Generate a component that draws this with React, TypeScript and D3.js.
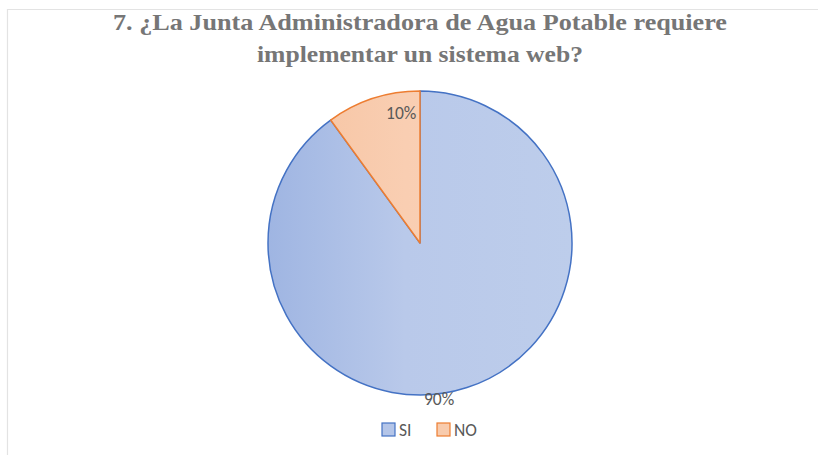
import React from "react";
import * as d3 from "d3";

const categories = ["SI", "NO"];
const values = [90, 10];
const labels = ["90%", "10%"];
const titleLines = ["7. ¿La Junta Administradora de Agua Potable requiere", "implementar un sistema web?"];
const titleWidths = [614, 326];

const W = 818;
const H = 455;
const cx = 420;
const cy = 243;
const R = 152;

// where each data label sits inside its slice (fraction of the slice angle, radius)
const labelFrac = [0.534, 0.77];
const labelRad = [157, 131];

export default function App() {
  const pie = d3.pie<number>().sort(null).value((d) => d)(values);
  const arc = d3.arc<d3.PieArcDatum<number>>().innerRadius(0).outerRadius(R);
  const fills = ["url(#gSI)", "url(#gNO)"];
  const strokes = ["#4472c4", "#ed7d31"];
  const legendFill = ["#b4c5e8", "#f8cbad"];
  const font = "Carlito, Calibri, 'Liberation Sans', sans-serif";

  const labelPos = pie.map((p, i) => {
    const a = p.startAngle + (p.endAngle - p.startAngle) * labelFrac[i];
    const r = labelRad[i];
    return [Math.sin(a) * r, -Math.cos(a) * r];
  });

  return (
    <svg width={W} height={H} style={{ position: "absolute", left: 0, top: 0 }}>
      <defs>
        <linearGradient id="gSI" gradientUnits="userSpaceOnUse" x1={-R} y1={0} x2={R} y2={0}>
          <stop offset="0" stopColor="#9fb5e2" />
          <stop offset="0.45" stopColor="#b9c9ea" />
          <stop offset="1" stopColor="#bdcdeb" />
        </linearGradient>
        <linearGradient id="gNO" gradientUnits="userSpaceOnUse" x1={-R} y1={0} x2={R} y2={0}>
          <stop offset="0" stopColor="#f6c29f" />
          <stop offset="0.45" stopColor="#f9ceb2" />
          <stop offset="1" stopColor="#fad3b9" />
        </linearGradient>
      </defs>
      <rect x={0} y={0} width={W} height={H} fill="#ffffff" />
      <path d={`M7.5,${H} L7.5,9.5 L${W},9.5`} fill="none" stroke="#e3e3e3" strokeWidth={1.2} />
      <g
        fontFamily="'Liberation Serif', 'Times New Roman', serif"
        fontWeight="bold"
        fontSize={24}
        fill="#767676"
        textAnchor="middle"
      >
        {titleLines.map((t, i) => (
          <text key={i} x={cx} y={30 + i * 32} textLength={titleWidths[i]} lengthAdjust="spacingAndGlyphs">
            {t}
          </text>
        ))}
      </g>
      <g transform={`translate(${cx},${cy})`}>
        {pie.map((p, i) => (
          <path key={categories[i]} d={arc(p) || ""} fill={fills[i]} stroke={strokes[i]} strokeWidth={1.5} strokeLinejoin="round" />
        ))}
        {pie.map((p, i) => (
          <text
            key={"l" + i}
            x={labelPos[i][0]}
            y={labelPos[i][1]}
            textAnchor="middle"
            dominantBaseline="central"
            fontFamily={font}
            fontSize={17.5}
            fill="#595959"
          >
            {labels[i]}
          </text>
        ))}
      </g>
      <g fontFamily={font} fontSize={17.5} fill="#595959">
        {categories.map((c, i) => {
          const x0 = 382 + i * 55;
          return (
            <g key={c}>
              <rect x={x0} y={423} width={13} height={13} fill={legendFill[i]} stroke={strokes[i]} strokeWidth={1.2} />
              <text x={x0 + 17} y={430} dominantBaseline="central">
                {c}
              </text>
            </g>
          );
        })}
      </g>
    </svg>
  );
}
